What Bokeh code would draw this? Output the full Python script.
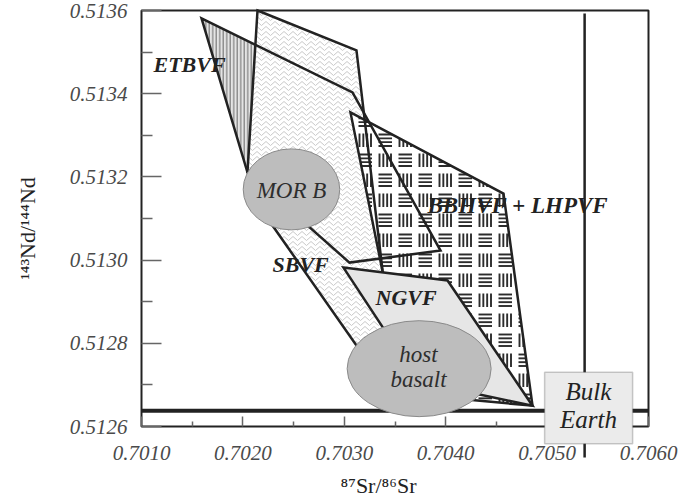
import math

from bokeh.core.properties import value
from bokeh.embed import file_html
from bokeh.models import BoxAnnotation, FixedTicker, Label, PrintfTickFormatter, Range1d
from bokeh.plotting import figure
from bokeh.resources import INLINE

# ---- axis ticks -------------------------------------------------------------
sr_ticks = [0.7010, 0.7020, 0.7030, 0.7040, 0.7050, 0.7060]
sr_minor = [0.7015, 0.7025, 0.7035, 0.7045, 0.7055]
nd_ticks = [0.5126, 0.5128, 0.5130, 0.5132, 0.5134, 0.5136]
nd_minor = [0.5127, 0.5129, 0.5131, 0.5133, 0.5135]

# ---- volcanic field fields (87Sr/86Sr, 143Nd/144Nd) ------------------------
etbvf_sr = [0.701592, 0.703081, 0.703949, 0.703051, 0.702045]
etbvf_nd = [0.513581, 0.513403, 0.513023, 0.512994, 0.513211]

sbvf_sr = [0.702144, 0.703120, 0.703377, 0.703574, 0.703189, 0.702292, 0.702045]
sbvf_nd = [0.513600, 0.513504, 0.512975, 0.512807, 0.512771, 0.513083, 0.513211]

bbhvf_sr = [0.703061, 0.704570, 0.704856, 0.703751, 0.703554]
bbhvf_nd = [0.513355, 0.513160, 0.512650, 0.512675, 0.512759]

ngvf_sr = [0.702992, 0.704018, 0.704856, 0.703732]
ngvf_nd = [0.512982, 0.512951, 0.512650, 0.512708]

# ellipses: centre and full extent
morb_sr, morb_nd, morb_w, morb_h = 0.702479, 0.513170, 0.000952, 0.0001947
host_sr, host_nd, host_w, host_h = 0.703738, 0.512739, 0.001420, 0.0002308

# Bulk Earth reference values
bulk_sr = 0.70537
bulk_nd = 0.512638

FONT = "Liberation Serif"
INK = "#222222"

# The drawing area spans the whole canvas so that the Bulk Earth marker and the
# axis titles can sit outside the framed data window; the axes are pinned to
# the window's lower-left corner.
SR0, SR1, ND0, ND1 = 0.7010, 0.7060, 0.5126, 0.5136
W, H = 690, 503
left, right, top, bottom = 141, 42, 10, 77
sr_px = (SR1 - SR0) / (W - left - right)
nd_px = (ND1 - ND0) / (H - top - bottom)
SR_LO, ND_HI = SR0 - left * sr_px, ND1 + top * nd_px

p = figure(width=W, height=H, title=None,
           x_range=Range1d(SR_LO, SR1 + right * sr_px),
           y_range=Range1d(ND0 - bottom * nd_px, ND_HI),
           output_backend="svg", toolbar_location=None,
           min_border=0, min_border_left=0, min_border_right=0,
           min_border_top=0, min_border_bottom=0)
p.background_fill_color = "white"
p.border_fill_color = "white"
p.outline_line_color = None
p.xgrid.visible = False
p.ygrid.visible = False

# ---- axes -------------------------------------------------------------------
p.xaxis.ticker = FixedTicker(ticks=sr_ticks, minor_ticks=sr_minor)
p.yaxis.ticker = FixedTicker(ticks=nd_ticks, minor_ticks=nd_minor)
p.xaxis.fixed_location = ND0
p.yaxis.fixed_location = SR0
p.xaxis.bounds = (SR0, SR1)
p.yaxis.bounds = (ND0, ND1)
for ax in (p.xaxis, p.yaxis):
    ax.formatter = PrintfTickFormatter(format="%.4f")
    ax.axis_line_color = None
    ax.major_tick_out = 0
    ax.minor_tick_out = 0
    ax.major_tick_line_color = "#666666"
    ax.minor_tick_line_color = "#666666"
    ax.major_tick_line_width = 1.5
    ax.minor_tick_line_width = 1.5
    ax.major_label_text_font = FONT
    ax.major_label_text_font_style = "italic"
    ax.major_label_text_font_size = "21px"
    ax.major_label_text_color = "#4a4a4a"
p.yaxis.major_tick_in = 20
p.yaxis.minor_tick_in = 11
p.yaxis.major_label_standoff = 14
p.xaxis.major_tick_in = 10
p.xaxis.minor_tick_in = 5
p.xaxis.major_label_standoff = 19


# ---- helpers: canvas pixels <-> data -----------------------------------------
def to_px(sr, nd):
    return (sr - SR_LO) / sr_px, (ND_HI - nd) / nd_px


def to_data(x, y):
    return SR_LO + x * sr_px, ND_HI - y * nd_px


# ---- fill patterns: short strokes clipped to a field outline -------------------
def inside(x, y, poly):
    hit = False
    for (xi, yi), (xj, yj) in zip(poly, poly[-1:] + poly[:-1]):
        if (yi > y) != (yj > y):
            if x < xi + (y - yi) * (xj - xi) / (yj - yi):
                hit = not hit
    return hit


def clip(a, b, poly):
    ax_, ay_ = a
    dx, dy = b[0] - ax_, b[1] - ay_
    ts = [0.0, 1.0]
    for (cx, cy), (ex, ey) in zip(poly, poly[1:] + poly[:1]):
        fx, fy = ex - cx, ey - cy
        den = dx * fy - dy * fx
        if abs(den) < 1e-12:
            continue
        t = ((cx - ax_) * fy - (cy - ay_) * fx) / den
        u = ((cx - ax_) * dy - (cy - ay_) * dx) / den
        if 0 < t < 1 and 0 <= u <= 1:
            ts.append(t)
    ts.sort()
    out = []
    for t0, t1 in zip(ts[:-1], ts[1:]):
        tm = (t0 + t1) / 2
        if t1 - t0 > 1e-9 and inside(ax_ + dx * tm, ay_ + dy * tm, poly):
            out.append(((ax_ + dx * t0, ay_ + dy * t0), (ax_ + dx * t1, ay_ + dy * t1)))
    return out


def strokes_to_columns(strokes, poly):
    cols = {"x0": [], "y0": [], "x1": [], "y1": []}
    for a, b in strokes:
        for (xa, ya), (xb, yb) in clip(a, b, poly):
            s0, n0 = to_data(xa, ya)
            s1, n1 = to_data(xb, yb)
            cols["x0"].append(s0); cols["y0"].append(n0)
            cols["x1"].append(s1); cols["y1"].append(n1)
    return cols


def bbox(poly):
    xs, ys = zip(*poly)
    return min(xs), max(xs), min(ys), max(ys)


def zigzag_strokes(poly, row=5.0, half=4.5, amp=4.0):
    x_lo, x_hi, y_lo, y_hi = bbox(poly)
    strokes = []
    y = math.floor(y_lo / row) * row
    while y <= y_hi + amp:
        k = math.floor(x_lo / half)
        while k * half <= x_hi:
            xa, xb = k * half, (k + 1) * half
            ya, yb = (y, y - amp) if k % 2 == 0 else (y - amp, y)
            strokes.append(((xa, ya), (xb, yb)))
            k += 1
        y += row
    return strokes


def weave_strokes(poly, period=20.0, size=13.5, n=4):
    x_lo, x_hi, y_lo, y_hi = bbox(poly)
    strokes = []
    gx = math.floor((x_lo - 18) / period)
    while 18 + gx * period <= x_hi:
        gy = math.floor((y_lo - 13) / period)
        while 13 + gy * period <= y_hi:
            x0, y0 = 18 + gx * period, 13 + gy * period
            for i in range(n):
                o = 1.0 + i * (size - 2.0) / (n - 1)
                if (gx + gy) % 2 == 0:
                    strokes.append(((x0, y0 + o), (x0 + size, y0 + o)))
                else:
                    strokes.append(((x0 + o, y0), (x0 + o, y0 + size)))
            gy += 1
        gx += 1
    return strokes


sbvf_poly = [to_px(s, n) for s, n in zip(sbvf_sr, sbvf_nd)]
bbhvf_poly = [to_px(s, n) for s, n in zip(bbhvf_sr, bbhvf_nd)]

# ---- fields: fills first, outlines on top -----------------------------------
p.patch(etbvf_sr, etbvf_nd, fill_color="#e4e4e4", line_color=None,
        hatch_pattern="vertical_line", hatch_color="#7c7c7c",
        hatch_scale=3.5, hatch_weight=1.2)

p.patch(sbvf_sr, sbvf_nd, fill_color="white", line_color=None)
p.segment("x0", "y0", "x1", "y1", source=strokes_to_columns(zigzag_strokes(sbvf_poly), sbvf_poly),
          line_color="#c9c9c9", line_width=1)

p.patch(bbhvf_sr, bbhvf_nd, fill_color="white", line_color=None)
p.segment("x0", "y0", "x1", "y1", source=strokes_to_columns(weave_strokes(bbhvf_poly), bbhvf_poly),
          line_color="#2c2c2c", line_width=1.9)

for xs, ys in ((etbvf_sr, etbvf_nd), (sbvf_sr, sbvf_nd), (bbhvf_sr, bbhvf_nd)):
    p.patch(xs, ys, fill_color=None, line_color=INK, line_width=2.5,
            line_join="miter")

p.patch(ngvf_sr, ngvf_nd, fill_color="#e6e6e6", line_color=INK,
        line_width=2.5, line_join="miter")

# ---- Bulk Earth reference lines -----------------------------------------------
p.segment(x0=[SR0], y0=[bulk_nd], x1=[SR1], y1=[bulk_nd],
          line_color=INK, line_width=4)
p.segment(x0=[bulk_sr], y0=[ND1 - 3 * nd_px], x1=[bulk_sr], y1=[ND0 - 31 * nd_px],
          line_color=INK, line_width=2.5)

# data window frame
p.quad(left=[SR0], right=[SR1], bottom=[ND0], top=[ND1], fill_color=None,
       line_color=INK, line_width=2)

# MORB and host basalt
p.ellipse([morb_sr, host_sr], [morb_nd, host_nd], width=[morb_w, host_w],
          height=[morb_h, host_h], fill_color="#bdbdbd",
          line_color="#8a8a8a", line_width=1)

# ---- field names (anchor points in canvas pixels) ---------------------------
bold_names = [("ETBVF", 153, 64, "22px"), ("BBHVF + LHPVF", 427, 205, "23px"),
              ("SBVF", 272, 264, "22px"), ("NGVF", 375, 297, "22px")]
pts = [to_data(x, y) for _, x, y, _ in bold_names]
p.text([q[0] for q in pts], [q[1] for q in pts], text=[t for t, *_ in bold_names],
       text_font=value(FONT), text_font_style="bold italic",
       text_font_size=[s for *_, s in bold_names], text_color=INK,
       text_align="left", text_baseline="alphabetic")

plain_names = [("MOR B", 291, 190), ("host", 418, 354), ("basalt", 418, 379)]
pts = [to_data(x, y) for _, x, y in plain_names]
p.text([q[0] for q in pts], [q[1] for q in pts], text=[t for t, *_ in plain_names],
       text_font=value(FONT), text_font_style="italic",
       text_font_size="23px", text_color="#2e2e2e",
       text_align="center", text_baseline="alphabetic")

# Bulk Earth box
p.add_layout(BoxAnnotation(left=bulk_sr - 40 * sr_px, right=bulk_sr + 48 * sr_px,
                           bottom=bulk_nd - 33 * nd_px, top=bulk_nd + 38.5 * nd_px,
                           fill_color="#ebebeb", fill_alpha=1,
                           line_color="#555555", line_width=1.5))
for txt, ypx in (("Bulk", 391), ("Earth", 419)):
    bx, by = to_data(588, ypx)
    p.add_layout(Label(x=bx, y=by, text=txt, text_font=FONT,
                       text_font_style="italic", text_font_size="25px",
                       text_color=INK, text_align="center",
                       text_baseline="alphabetic"))

# ---- axis titles --------------------------------------------------------------
tx, ty = to_data(378, 485)
p.add_layout(Label(x=tx, y=ty, text="\u2078\u2077Sr/\u2078\u2076Sr",
                   text_font=FONT, text_font_size="22px", text_color=INK,
                   text_align="center", text_baseline="alphabetic"))
tx, ty = to_data(27, 228)
p.add_layout(Label(x=tx, y=ty, text="\u00b9\u2074\u00b3Nd/\u00b9\u2074\u2074Nd",
                   angle=math.pi / 2, text_font=FONT, text_font_size="22px",
                   text_color=INK, text_align="center", text_baseline="middle"))

open("out.html", "w").write(file_html(p, INLINE))
